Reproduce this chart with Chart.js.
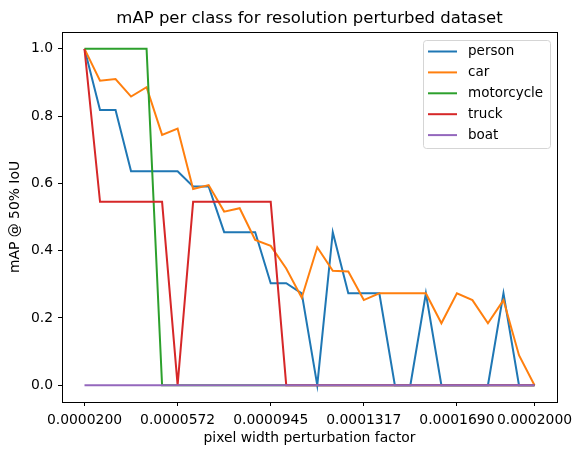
<!DOCTYPE html>
<html>
<head>
<meta charset="utf-8">
<script src="https://cdn.jsdelivr.net/npm/chart.js@4.4.1/dist/chart.umd.min.js"></script>
<style>
  html, body { margin: 0; padding: 0; background: #fff; }
  #wrap { width: 581px; height: 455px; }
</style>
</head>
<body>
<div id="wrap"><canvas id="mapChart" width="581" height="455"></canvas></div>
<script>
// Values (30 perturbation steps)
const classNames = ['person', 'car', 'motorcycle', 'truck', 'boat'];
const classColors = ['#1f77b4', '#ff7f0e', '#2ca02c', '#d62728', '#9467bd'];

const person = [1.0, 0.818, 0.818, 0.636, 0.636, 0.636, 0.636, 0.591, 0.591, 0.455,
                0.455, 0.455, 0.303, 0.303, 0.273, 0.0, 0.455, 0.273, 0.273, 0.273,
                0.0, 0.0, 0.273, 0.0, 0.0, 0.0, 0.0, 0.273, 0.0, 0.0];
const car = [1.0, 0.905, 0.91, 0.858, 0.886, 0.744, 0.763, 0.583, 0.595, 0.516,
             0.526, 0.432, 0.414, 0.347, 0.26, 0.41, 0.34, 0.338, 0.253, 0.273,
             0.273, 0.273, 0.273, 0.184, 0.273, 0.253, 0.184, 0.253, 0.089, 0.0];
const motorcycle = [1.0, 1.0, 1.0, 1.0, 1.0, 0.0, 0.0, 0.0, 0.0, 0.0,
                    0.0, 0.0, 0.0, 0.0, 0.0, 0.0, 0.0, 0.0, 0.0, 0.0,
                    0.0, 0.0, 0.0, 0.0, 0.0, 0.0, 0.0, 0.0, 0.0, 0.0];
const truck = [1.0, 0.545, 0.545, 0.545, 0.545, 0.545, 0.0, 0.545, 0.545, 0.545,
               0.545, 0.545, 0.545, 0.0, 0.0, 0.0, 0.0, 0.0, 0.0, 0.0,
               0.0, 0.0, 0.0, 0.0, 0.0, 0.0, 0.0, 0.0, 0.0, 0.0];
const boat = [0.0, 0.0, 0.0, 0.0, 0.0, 0.0, 0.0, 0.0, 0.0, 0.0,
              0.0, 0.0, 0.0, 0.0, 0.0, 0.0, 0.0, 0.0, 0.0, 0.0,
              0.0, 0.0, 0.0, 0.0, 0.0, 0.0, 0.0, 0.0, 0.0, 0.0];

// x tick positions (step index) and their labels
const xTickIndex = [0, 6, 12, 18, 24, 29];
const xTickLabels = ['0.0000200', '0.0000572', '0.0000945', '0.0001317', '0.0001690', '0.0002000'];
const yTicks = [0.0, 0.2, 0.4, 0.6, 0.8, 1.0];

const series = [person, car, motorcycle, truck, boat];
const FONT = 'DejaVu Sans';

// title, top/right spines and the boxed legend, matplotlib style
const extrasPlugin = {
    id: 'extras',
    afterDraw(chart) {
        const ctx = chart.ctx;
        const area = chart.chartArea;
        ctx.save();
        ctx.strokeStyle = '#000';
        ctx.lineWidth = 1;
        ctx.strokeRect(Math.round(area.left) + 0.5, Math.round(area.top) + 0.5,
                       Math.round(area.right - area.left), Math.round(area.bottom - area.top));

        ctx.fillStyle = '#000';
        ctx.font = '16.5px "' + FONT + '"';
        ctx.textAlign = 'center';
        ctx.textBaseline = 'middle';
        ctx.fillText('mAP per class for resolution perturbed dataset', (area.left + area.right) / 2, 18.5);

        // legend box
        const bx = 423, by = 40, bw = 127, bh = 108;
        ctx.beginPath();
        ctx.roundRect(bx + 0.5, by + 0.5, bw, bh, 3);
        ctx.fillStyle = 'rgba(255,255,255,0.8)';
        ctx.fill();
        ctx.strokeStyle = '#d5d5d5';
        ctx.stroke();
        ctx.font = '13.5px "' + FONT + '"';
        ctx.textAlign = 'left';
        chart.data.datasets.forEach((ds, i) => {
            const y = 51.5 + i * 20.9;
            ctx.strokeStyle = ds.borderColor;
            ctx.lineWidth = 2;
            ctx.beginPath();
            ctx.moveTo(428, y);
            ctx.lineTo(457, y);
            ctx.stroke();
            ctx.fillStyle = '#000';
            ctx.fillText(ds.label, 468, y);
        });
        ctx.restore();
    }
};

const chart = new Chart(document.getElementById('mapChart').getContext('2d'), {
    type: 'line',
    data: {
        datasets: series.map((vals, i) => ({
            label: classNames[i],
            data: vals.map((v, k) => ({ x: k, y: v })),
            borderColor: classColors[i],
            backgroundColor: classColors[i],
            borderWidth: 2,
            pointRadius: 0,
            tension: 0,
            order: series.length - i
        }))
    },
    options: {
        responsive: false,
        animation: false,
        layout: { padding: { top: 32, right: 24, left: 0, bottom: 0 } },
        plugins: {
            legend: { display: false },
            title: { display: false },
            tooltip: { enabled: false }
        },
        scales: {
            x: {
                type: 'linear',
                min: -1.45,
                max: 30.45,
                afterFit(scale) { scale.height = 53; },
                afterBuildTicks(scale) { scale.ticks = xTickIndex.map(v => ({ value: v })); },
                ticks: {
                    color: '#000',
                    font: { family: FONT, size: 13.9 },
                    padding: 6,
                    maxRotation: 0,
                    autoSkip: false,
                    callback: (v) => xTickLabels[xTickIndex.indexOf(v)]
                },
                grid: { drawOnChartArea: false, drawTicks: true, tickLength: 4, color: '#000' },
                border: { display: true, color: '#000' },
                title: {
                    display: true,
                    text: 'pixel width perturbation factor',
                    color: '#000',
                    font: { family: FONT, size: 13.9 },
                    padding: { top: 0, bottom: 8 }
                }
            },
            y: {
                min: -0.05,
                max: 1.05,
                afterFit(scale) { scale.width = 62; },
                afterBuildTicks(scale) { scale.ticks = yTicks.map(v => ({ value: v })); },
                ticks: {
                    color: '#000',
                    font: { family: FONT, size: 13.9 },
                    padding: 5,
                    callback: (v) => v.toFixed(1)
                },
                grid: { drawOnChartArea: false, drawTicks: true, tickLength: 4, color: '#000' },
                border: { display: true, color: '#000' },
                title: {
                    display: true,
                    text: 'mAP @ 50% IoU',
                    color: '#000',
                    font: { family: FONT, size: 13.9 },
                    padding: { top: 7, bottom: 0 }
                }
            }
        }
    },
    plugins: [extrasPlugin]
});
</script>
</body>
</html>
